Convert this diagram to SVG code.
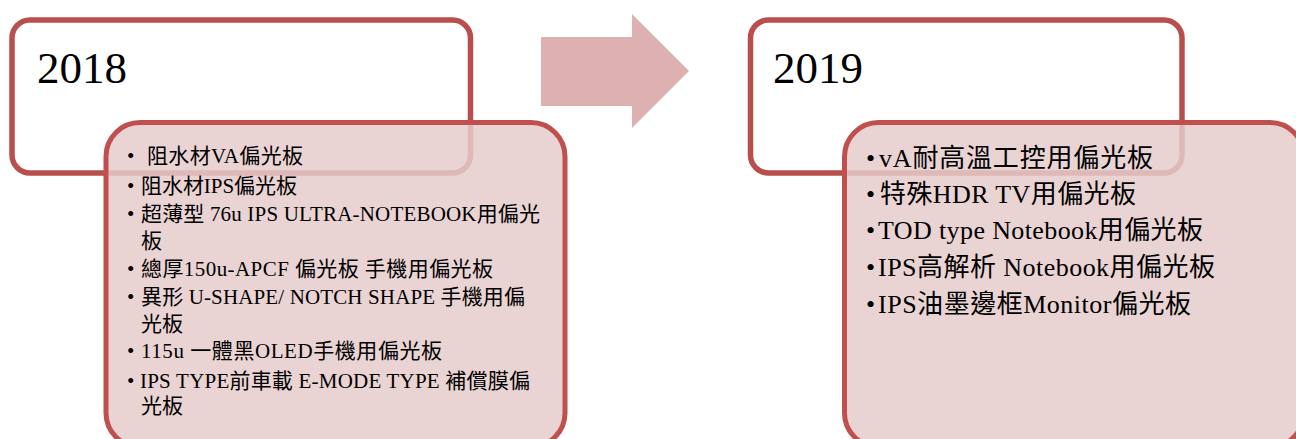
<svg xmlns="http://www.w3.org/2000/svg" width="1296" height="439" viewBox="0 0 1296 439">
<style>
.hdr{fill:#ffffff;stroke:#b84f4c;stroke-width:5.5}
.det{fill:rgb(229,203,203);fill-opacity:0.85;stroke:#c0504d;stroke-width:5}
.yr{font-family:"Liberation Serif","Noto Sans CJK TC",serif;font-size:45px;fill:#000}
.l{font-family:"Liberation Serif","Noto Sans CJK TC",serif;font-size:21px;fill:#000}
.r{font-family:"Liberation Serif","Noto Sans CJK TC",serif;font-size:26px;fill:#000}
.arrow{fill:#ddb1b1}
</style>
<g id="connectors">
<polygon class="arrow" points="541,37 632,37 632,14 689,71 632,128 632,106 541,106"/>
</g>
<g id="node-2018">
<rect class="hdr" x="12" y="20" width="458.5" height="153" rx="18"/>
<text class="yr" x="37" y="83">2018</text>
</g>
<g id="node-2019">
<rect class="hdr" x="750.5" y="20" width="431.5" height="153" rx="18"/>
<text class="yr" x="773" y="83">2019</text>
</g>
<g id="node-2018-detail">
<rect class="det" x="106" y="122.5" width="459" height="324.5" rx="34"/>
<g class="l">
<text x="127" y="163">•</text><text x="147" y="163" textLength="156">阻水材VA偏光板</text>
<text x="127" y="193">•</text><text x="141" y="193" textLength="156">阻水材IPS偏光板</text>
<text x="127" y="221">•</text><text x="141" y="221" textLength="399">超薄型 76u IPS ULTRA-NOTEBOOK用偏光</text>
<text x="141" y="248">板</text>
<text x="127" y="276">•</text><text x="141" y="276" textLength="352">總厚150u-APCF 偏光板  手機用偏光板</text>
<text x="127" y="304">•</text><text x="141" y="304" textLength="384">異形 U-SHAPE/ NOTCH SHAPE 手機用偏</text>
<text x="141" y="331">光板</text>
<text x="127" y="358">•</text><text x="141" y="358" textLength="301">115u  一體黑OLED手機用偏光板</text>
<text x="127" y="388">•</text><text x="140" y="388" textLength="390">IPS TYPE前車載 E-MODE TYPE 補償膜偏</text>
<text x="141" y="413">光板</text>
</g>
</g>
<g id="node-2019-detail">
<rect class="det" x="844.5" y="122.5" width="459.5" height="324.5" rx="34"/>
<g class="r">
<text x="866" y="167">•</text><text x="879" y="167" textLength="274">vA耐高溫工控用偏光板</text>
<text x="866" y="203">•</text><text x="880" y="203" textLength="256">特殊HDR TV用偏光板</text>
<text x="866" y="239">•</text><text x="878" y="239" textLength="325">TOD type Notebook用偏光板</text>
<text x="866" y="276">•</text><text x="878" y="276" textLength="337">IPS高解析 Notebook用偏光板</text>
<text x="866" y="313">•</text><text x="878" y="313" textLength="313">IPS油墨邊框Monitor偏光板</text>
</g>
</g>
</svg>
